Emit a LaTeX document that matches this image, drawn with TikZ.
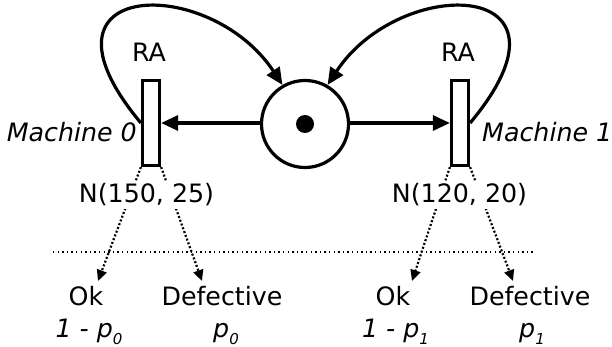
\documentclass[tikz,border=0pt]{standalone}
\usepackage{fontspec}
\setmainfont{DejaVu Sans}
\usetikzlibrary{arrows.meta}
\tikzset{
  lbl/.style={inner sep=0pt, font=\fontsize{25.3}{30}\selectfont},
  lbli/.style={lbl, font=\fontsize{25.3}{30}\selectfont\itshape},
  trans/.style={draw, line width=3.2pt, fill=white, minimum width=17pt, minimum height=85pt, inner sep=0pt},
  place/.style={draw, circle, line width=3.2pt, minimum size=87pt, inner sep=0pt},
  token/.style={circle, fill=black, minimum size=18pt, inner sep=0pt},
  arc/.style={line width=3.2pt, -{Triangle[length=17pt,width=15pt]}},
  prob/.style={line width=2.2pt, dash pattern=on 2pt off 2pt, -{Triangle[length=11pt,width=10pt]}},
  sep/.style={line width=1.4pt, dash pattern=on 1.4pt off 3.2pt}
}
\newcommand{\sbs}[1]{\raisebox{-7pt}{\fontsize{15}{15}\selectfont #1}}
\begin{document}
\begin{tikzpicture}[x=1pt,y=-1pt]
\useasboundingbox (0,0) rectangle (612,347);
% place and transitions
\node[place] (p) at (305,124) {};
\node[token] (tok) at (305,124) {};
\node[trans] (t0) at (151,123) {};
\node[trans] (t1) at (460,123) {};
% labels
\node[lbl, anchor=base] (ra0) at (149,62) {RA};
\node[lbl, anchor=base] (ra1) at (458,62) {RA};
\node[lbli, anchor=base east] (m0) at (137,142) {Machine 0};
\node[lbli, anchor=base west] (m1) at (482,142) {Machine 1};
% connectors
\draw[arc] (p.west |- t0.east) -- (t0.east);
\draw[arc] (p.east |- t1.west) -- (t1.west);
\draw[arc] (t0.west) .. controls +(-121,-145) and +(-73,-111) .. (p.120);
\draw[arc] (t1.east) .. controls +(121,-145) and +(73,-111) .. (p.60);
% separator
\coordinate (s0) at (53,252);
\coordinate (s1) at (534,252);
\draw[sep] (s0) -- (s1);
% outcome labels
\node[lbl, anchor=base] (ok0) at (86,305) {Ok};
\node[lbl, anchor=base] (def0) at (222,305) {Defective};
\node[lbl, anchor=base] (ok1) at (393,305) {Ok};
\node[lbl, anchor=base] (def1) at (530,305) {Defective};
\coordinate (ok0in) at (98,281);
\coordinate (def0in) at (202,281);
\coordinate (ok1in) at (412,281);
\coordinate (def1in) at (513,281);
\draw[prob] (t0.south west) -- (ok0in);
\draw[prob] (t0.south east) -- (def0in);
\draw[prob] (t1.south west) -- (ok1in);
\draw[prob] (t1.south east) -- (def1in);
% distribution labels (on top of dotted lines)
\node[lbl, anchor=base, fill=white, inner ysep=3pt, inner xsep=2pt] (n0) at (146.5,203) {N(150, 25)};
\node[lbl, anchor=base, fill=white, inner ysep=3pt, inner xsep=2pt] (n1) at (459.5,203) {N(120, 20)};
% probabilities
\node[lbli, anchor=base] (q0) at (89,337) {1 - p\sbs{0}};
\node[lbli, anchor=base] (pp0) at (226,337) {p\sbs{0}};
\node[lbli, anchor=base] (q1) at (395.5,337) {1 - p\sbs{1}};
\node[lbli, anchor=base] (pp1) at (532,337) {p\sbs{1}};
\end{tikzpicture}
\end{document}
